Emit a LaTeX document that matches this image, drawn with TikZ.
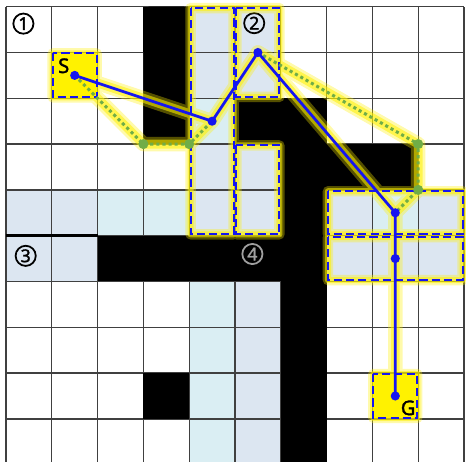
\documentclass[tikz,border=0pt]{standalone}
\usepackage{fontspec}
\newfontfamily\lblfont{Noto Sans}[AutoFakeBold=1.6]
\definecolor{cellblue}{HTML}{DCE6F1}
\definecolor{cellcyan}{HTML}{DAEEF3}
\definecolor{pathblue}{HTML}{1515F0}
\definecolor{dotgreen}{HTML}{70AD47}
\definecolor{gridgray}{HTML}{404040}
\definecolor{numgray}{HTML}{A0A0A0}
\tikzset{
  gridline/.style={draw=gridgray, line width=0.8pt},
  blockfill/.style={fill=black},
  regionbox/.style={draw=pathblue, line width=1.2pt, dash pattern=on 5pt off 2.6pt},
  glowwide/.style={draw=yellow, line width=6.5pt, line cap=round, line join=round},
  glownarrow/.style={draw=yellow, line width=3.8pt, line cap=round, line join=round},
  bluepath/.style={draw=pathblue, line width=1.7pt, line join=round},
  greenpath/.style={draw=dotgreen, line width=1.9pt, dash pattern=on 1.9pt off 1.9pt},
  bdot/.style={circle, fill=pathblue, inner sep=0pt, minimum size=0.2cm},
  gdot/.style={circle, fill=dotgreen, inner sep=0pt, minimum size=0.22cm},
  circnum/.style={circle, draw=black, line width=1.1pt, inner sep=0pt, minimum size=0.44cm,
    font=\lblfont\bfseries\fontsize{11}{11}\selectfont},
  letter/.style={inner sep=0pt, font=\lblfont\bfseries\fontsize{12.5}{12.5}\selectfont}
}
\begin{document}
\begin{tikzpicture}[x=1cm, y=-1cm]
\useasboundingbox (-0.131,-0.146) rectangle (10.044,9.92);
\fill[white] (-0.131,-0.146) rectangle (10.044,9.92);

% light fills
\foreach \c/\r in {0/4,1/4,0/5,1/5,4/0,4/1,4/3,4/4,5/0,5/1,5/3,5/4,7/4,9/4,7/5,8/5,9/5,5/6,5/7,5/8,5/9}
  \fill[cellblue] (\c,\r) rectangle ++(1,1);
\foreach \c/\r in {2/4,3/4,4/2,8/4,4/6,4/7,4/8,4/9}
  \fill[cellcyan] (\c,\r) rectangle ++(1,1);
% start and goal cells
\fill[yellow] (1,1) rectangle (2,2);
\fill[yellow] (8,8) rectangle (9,9);

% grid
\draw[gridline] (0,0) grid (10,10);
\draw[black, line width=1.6pt] (0,5) -- (2,5);

% blocked cells
\fill[blockfill, rounded corners=0.12cm] (3,0) -- (4,0) -- (4,3) -- (3,3) -- cycle;
\fill[blockfill] (3,0) rectangle (4,1);
\fill[blockfill] (5,2) rectangle (7,3);
\fill[blockfill, rounded corners=0.12cm] (6,3) -- (9,3) -- (9,4) -- (6,4) -- cycle;
\fill[blockfill] (6,3) rectangle (8,4);
\fill[blockfill] (6,2) rectangle (7,10);
\fill[blockfill] (2,5) rectangle (7,6);
\fill[blockfill] (3,8) rectangle (4,9);

% circled numbers
\node[circnum] (n1) at (0.38,0.37) {1};
\node[circnum] (n2) at (5.42,0.36) {2};
\node[circnum] (n3) at (0.43,5.44) {3};
\node[circnum, draw=numgray, text=numgray] (n4) at (5.38,5.40) {4};

% path points
\coordinate (s) at (1.5,1.5);
\coordinate (a) at (4.5,2.5);
\coordinate (b) at (5.5,1.0);
\coordinate (c) at (8.5,4.5);
\coordinate (d) at (8.5,5.5);
\coordinate (g) at (8.5,8.5);
\coordinate (g1) at (3,3);
\coordinate (g2) at (4,3);
\coordinate (g3) at (9,3);
\coordinate (g4) at (9,4);

% glow for boxes and paths
\begin{scope}[transparency group, opacity=0.33]
  \draw[glowwide] (1.02,1.02) rectangle (1.98,1.98);
  \draw[glowwide] (8.02,8.02) rectangle (8.98,8.98);
  \draw[glowwide] (4.03,0.03) rectangle (4.97,4.97);
  \draw[glowwide] (5.03,0.03) rectangle (5.97,1.97);
  \draw[glowwide] (5.03,3.03) rectangle (5.97,4.97);
  \draw[glowwide] (7.03,4.03) rectangle (9.97,4.97);
  \draw[glowwide] (7.03,5.03) rectangle (9.97,5.97);
  \draw[glowwide, line width=9pt] (s) -- (g1) -- (g2) -- (a) -- (b) -- (g3) -- (g4) -- (c) -- (d) -- (g);
  \draw[glowwide, line width=9pt] (b) -- (c);
  \draw[glowwide, line width=9pt] (s) -- (a);
\end{scope}
\begin{scope}[transparency group, opacity=0.55]
  \draw[glownarrow] (1.02,1.02) rectangle (1.98,1.98);
  \draw[glownarrow] (8.02,8.02) rectangle (8.98,8.98);
  \draw[glownarrow] (4.03,0.03) rectangle (4.97,4.97);
  \draw[glownarrow] (5.03,0.03) rectangle (5.97,1.97);
  \draw[glownarrow] (5.03,3.03) rectangle (5.97,4.97);
  \draw[glownarrow] (7.03,4.03) rectangle (9.97,4.97);
  \draw[glownarrow] (7.03,5.03) rectangle (9.97,5.97);
  \draw[glownarrow, line width=5.5pt] (s) -- (g1) -- (g2) -- (a) -- (b) -- (g3) -- (g4) -- (c) -- (d) -- (g);
  \draw[glownarrow, line width=5.5pt] (b) -- (c);
  \draw[glownarrow, line width=5.5pt] (s) -- (a);
\end{scope}

% dashed regions
\draw[regionbox] (1.02,1.02) rectangle (1.98,1.98);
\draw[regionbox] (8.02,8.02) rectangle (8.98,8.98);
\draw[regionbox] (4.03,0.03) rectangle (4.97,4.97);
\draw[regionbox] (5.03,0.03) rectangle (5.97,1.97);
\draw[regionbox] (5.03,3.03) rectangle (5.97,4.97);
\draw[regionbox] (7.03,4.03) rectangle (9.97,4.97);
\draw[regionbox] (7.03,5.03) rectangle (9.97,5.97);

% green dotted path
\draw[greenpath] (s) -- (g1) -- (g2) -- (a);
\draw[greenpath] (b) -- (g3) -- (g4) -- (c);
\node[gdot] (q1) at (g1) {};
\node[gdot] (q2) at (g2) {};
\node[gdot] (q3) at (g3) {};
\node[gdot] (q4) at (g4) {};

% blue path
\draw[bluepath] (s) -- (a) -- (b) -- (c) -- (d) -- (g);
\node[bdot] (p1) at (s) {};
\node[bdot] (p2) at (a) {};
\node[bdot] (p3) at (b) {};
\node[bdot] (p4) at (c) {};
\node[bdot] (p5) at (d) {};
\node[bdot] (p6) at (g) {};

% labels
\node[letter] (lS) at (1.26,1.29) {S};
\node[letter] (lG) at (8.78,8.76) {G};
\end{tikzpicture}
\end{document}
